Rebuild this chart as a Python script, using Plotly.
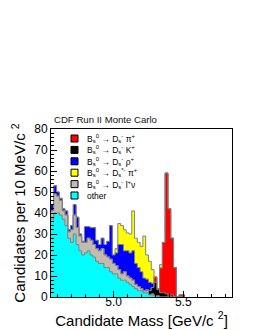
import numpy as np
import plotly.graph_objects as go

# ---- data (candidates per bin) ----
bin_low = 4.55
bin_width = 0.02

other = [37, 40, 40, 39, 37, 34, 28, 26, 30, 25, 22, 20, 21, 22, 20, 19, 17, 16, 16, 14,
         14, 12, 11, 11, 9, 8, 8, 7, 6, 5, 4, 3, 3, 2, 2, 1, 1, 0.5, 0.5, 0,
         0, 0, 0, 0, 0, 0, 0, 0]
ds_lnu = [4, 9, 8, 7, 4, 5, 3, 6, 9, 8, 7, 6, 5, 6, 7, 6, 6, 6, 7, 6,
          5, 6, 5, 4, 4, 3, 4, 3, 3, 3, 2, 2, 1, 1, 1, 0, 0.5, 0, 0, 0,
          0, 0, 0, 0, 0, 0, 0, 0]
ds_k = [0] * 34 + [0.5, 2, 3, 6.5, 3, 2, 2, 1.5, 0, 1, 0, 0, 0, 0]
ds_pi = [0] * 37 + [2.5, 0.5, 11.8, 24, 57.5, 42, 27, 14, 0, 1, 1]
ds_rho = [3, 4, 2, 1, 1, 2, 1, 2, 5, 5, 1, 0.5, 7.5, 5.5, 6, 8, 4, 3, 5, 5,
          7.5, 16, 4, 6, 12, 14, 10, 12, 12, 14, 10, 9, 8, 6, 5, 4, 2] + [0] * 11
dsstar_pi = [0] * 23 + [2, 10, 9, 10, 8.5, 9, 19, 12, 12, 12, 20, 11.5, 10, 6.5, 0, 0, 1.6] + [0] * 8

# stacking order (bottom -> top)
stack_vals = [other, ds_lnu, ds_k, ds_pi, ds_rho, dsstar_pi]
stack_cols = ["#00ffff", "#c3bbb0", "#000000", "#ff0000", "#0000ff", "#ffff00"]

# legend (top -> bottom)
legend_labels = [
    "B<sub>s</sub><sup>0</sup> → D<sub>s</sub><sup>-</sup> π<sup>+</sup>",
    "B<sub>s</sub><sup>0</sup> → D<sub>s</sub><sup>-</sup> K<sup>+</sup>",
    "B<sub>s</sub><sup>0</sup> → D<sub>s</sub><sup>-</sup> ρ<sup>+</sup>",
    "B<sub>s</sub><sup>0</sup> → D<sub>s</sub><sup>*-</sup> π<sup>+</sup>",
    "B<sub>s</sub><sup>0</sup> → D<sub>s</sub><sup>-</sup> l<sup>+</sup>ν",
    "other",
]
legend_cols = ["#ff0000", "#000000", "#0000ff", "#ffff00", "#c3bbb0", "#00ffff"]

nb = len(other)
edges = bin_low + bin_width * np.arange(nb + 1)
cum = np.cumsum(np.array(stack_vals, dtype=float), axis=0)

fig = go.Figure()
for i in range(len(stack_vals) - 1, -1, -1):
    y = list(cum[i]) + [cum[i][-1]]
    fig.add_trace(go.Scatter(
        x=edges, y=y, mode="lines", line=dict(shape="hv", color="#808080", width=1),
        fill="tozeroy", fillcolor=stack_cols[i], showlegend=False, hoverinfo="skip"))

W, H = 255, 330
ml, mr, mt, mb = 43, 31, 121, 41
pw, ph = W - ml - mr, H - mt - mb

def px2paper(px, py):
    return (px - ml) / pw, (H - mb - py) / ph

shapes, annots = [], []
for j, (lab, col) in enumerate(zip(legend_labels, legend_cols)):
    cy = 130.5 + 11.4 * j
    x0, y0 = px2paper(63, cy - 3.5)
    x1, y1 = px2paper(70, cy + 3.5)
    shapes.append(dict(type="rect", xref="paper", yref="paper", x0=x0, x1=x1, y0=y1, y1=y0,
                       fillcolor=col, line=dict(color="#000000", width=1)))
    tx, ty = px2paper(77, cy)
    annots.append(dict(xref="paper", yref="paper", x=tx, y=ty, xanchor="left", yanchor="middle",
                       text=lab, showarrow=False, font=dict(size=8.5, color="#000")))

annots.append(dict(xref="paper", yref="paper", x=px2paper(44, 0)[0], y=px2paper(0, 111)[1],
                   xanchor="left", yanchor="middle", text="CDF Run II Monte Carlo", showarrow=False,
                   font=dict(size=9.6, color="#111")))

font_fam = "Liberation Sans, Arial, Helvetica, sans-serif"
fig.update_layout(
    width=W, height=H, margin=dict(l=ml, r=mr, t=mt, b=mb, autoexpand=False),
    paper_bgcolor="white", plot_bgcolor="white",
    font=dict(family=font_fam, color="#000"),
    shapes=shapes, annotations=annots, showlegend=False,
    xaxis=dict(range=[edges[0], 5.85], tick0=5.0, dtick=0.5, tickformat=".1f",
               ticks="inside", ticklen=6, tickcolor="#000", tickfont=dict(size=12),
               ticklabelstandoff=-6,
               minor=dict(dtick=0.1, tick0=5.0, ticks="inside", ticklen=3, tickcolor="#000"),
               showline=True, linecolor="#000", linewidth=1, mirror=True, showgrid=False,
               zeroline=False, title=dict(text="Candidate Mass [GeV/c <sup>2</sup>]",
                                          font=dict(size=15), standoff=1)),
    yaxis=dict(range=[0, 80], dtick=10, ticks="inside", ticklen=6, tickcolor="#000",
               tickfont=dict(size=12),
               minor=dict(dtick=2, ticks="inside", ticklen=3, tickcolor="#000"),
               showline=True, linecolor="#000", linewidth=1, mirror=True, showgrid=False,
               zeroline=False, title=dict(text="Candidates per 10 MeV/c <sup>2</sup>",
                                          font=dict(size=15), standoff=4)),
)
fig.write_html("out.html")
